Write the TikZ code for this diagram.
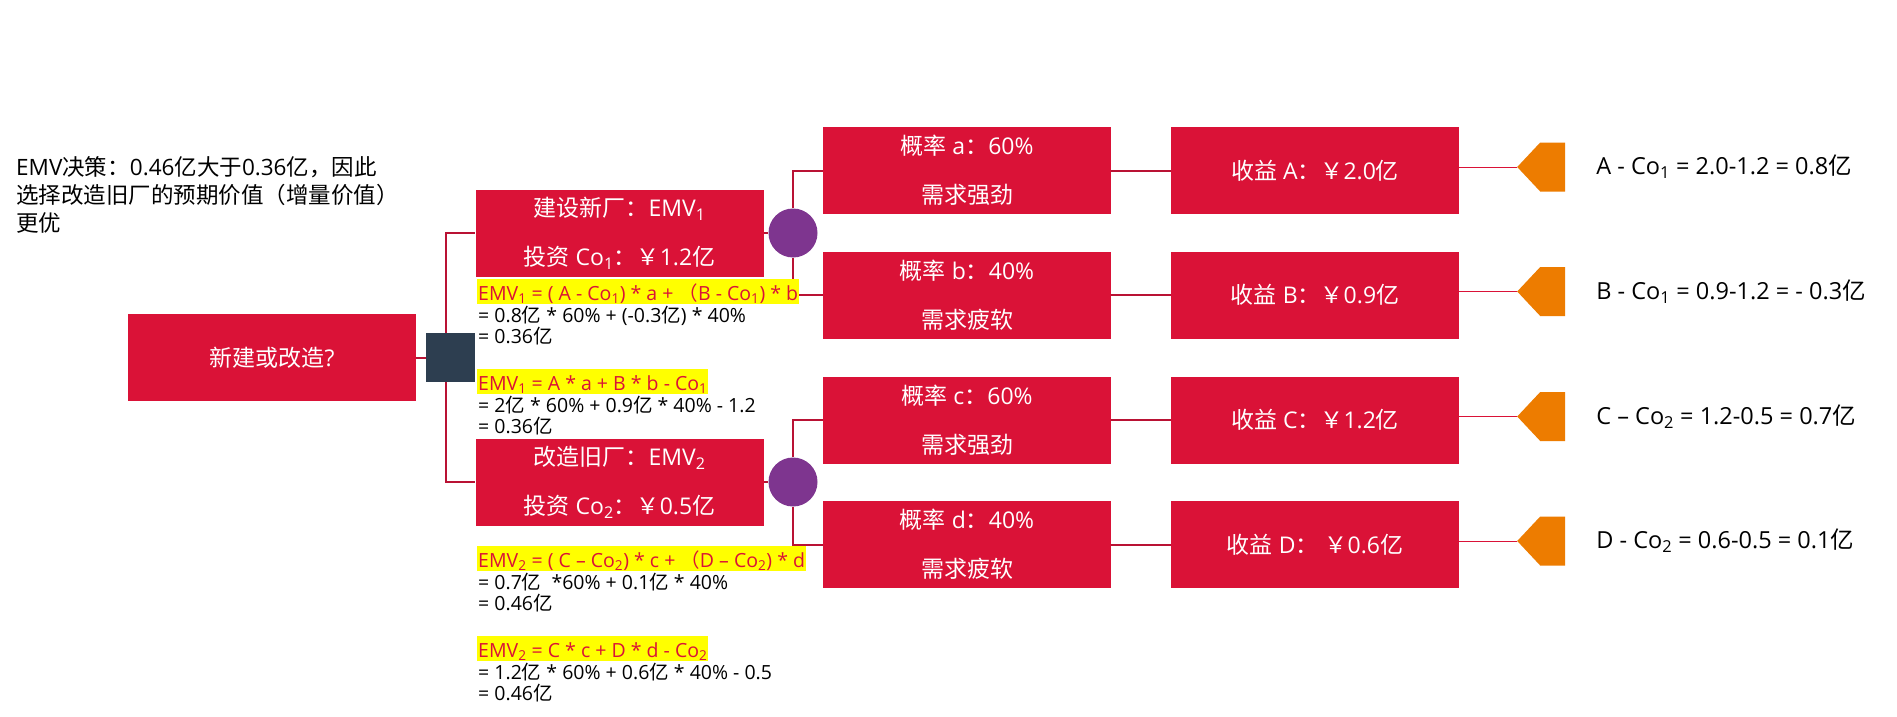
\documentclass[tikz,border=0pt]{standalone}
\usepackage{fontspec}
\setmainfont{Open Sans}
\newfontfamily\zhfont{Noto Sans CJK SC}
\newfontfamily\latinfont{Open Sans}
\usepackage{xcolor}
\usetikzlibrary{positioning,calc}

% Chinese characters and full-width forms switch to the CJK family
\XeTeXinterchartokenstate=1
\newXeTeXintercharclass\zhclass
\count255="3000
\loop \XeTeXcharclass\count255=\zhclass \advance\count255 by 1 \ifnum\count255<"A000 \repeat
\count255="FF00
\loop \XeTeXcharclass\count255=\zhclass \advance\count255 by 1 \ifnum\count255<"FFF0 \repeat
\XeTeXinterchartoks 0 \zhclass = {\zhfont}
\XeTeXinterchartoks 4095 \zhclass = {\zhfont}
\XeTeXinterchartoks \zhclass 0 = {\latinfont}
\XeTeXinterchartoks \zhclass 4095 = {\latinfont}

\definecolor{boxred}{RGB}{218,18,55}
\definecolor{linered}{RGB}{185,18,52}
\definecolor{sqdark}{RGB}{45,62,80}
\definecolor{chancepurple}{RGB}{126,53,143}
\definecolor{flagorange}{RGB}{237,124,0}
\definecolor{hlyellow}{RGB}{255,255,0}

\tikzset{
    box/.style={fill=boxred, text=white, minimum width=288pt, minimum height=87pt,
        inner sep=0pt, align=center, font=\fontsize{23}{49}\selectfont},
    decision/.style={fill=sqdark, minimum size=49pt, inner sep=0pt},
    chance/.style={circle, fill=chancepurple, minimum size=49pt, inner sep=0pt},
    conn/.style={linered, line width=2pt},
    thinconn/.style={boxred, line width=1pt},
    highlight/.style={fill=hlyellow, text=boxred, inner xsep=1pt, inner ysep=0pt,
        text height=21pt, text depth=4pt, font=\fontsize{19.5}{21}\selectfont},
    formula/.style={inner sep=0pt, align=left, font=\fontsize{19.5}{21}\selectfont},
    restext/.style={inner sep=0pt, font=\fontsize{23.5}{28}\selectfont},
}

\begin{document}
\begin{tikzpicture}[x=1pt, y=-1pt]
    \fill[white] (0,0) rectangle (1897,717);

    % Decision note
    \node[inner sep=0pt, align=left, anchor=north west, font=\fontsize{22.5}{28}\selectfont]
        (note) at (16,156) {EMV决策：0.46亿大于0.36亿，因此\\选择改造旧厂的预期价值（增量价值）\\更优};

    % Tree nodes
    \node[box] (main) at (272,357.5) {新建或改造?};
    \node[decision] (sq) at (450.5,357.5) {};
    \node[box] (new) at (619.5,233) {建设新厂：EMV\textsubscript{1}\\投资 Co\textsubscript{1}：￥1.2亿};
    \node[box] (old) at (619.5,482) {改造旧厂：EMV\textsubscript{2}\\投资 Co\textsubscript{2}：￥0.5亿};
    \node[chance] (c1) at (793,233) {};
    \node[chance] (c2) at (793,482) {};

    \node[box] (pa) at (967,170.5) {概率 a：60\%\\需求强劲};
    \node[box] (pb) at (967,295) {概率 b：40\%\\需求疲软};
    \node[box] (pc) at (967,420) {概率 c：60\%\\需求强劲};
    \node[box] (pd) at (967,544.5) {概率 d：40\%\\需求疲软};

    \node[box] (ra) at (1315,170.5) {收益 A：￥2.0亿};
    \node[box] (rb) at (1315,295) {收益 B：￥0.9亿};
    \node[box] (rc) at (1315,420) {收益 C：￥1.2亿};
    \node[box] (rd) at (1315,544.5) {收益 D： ￥0.6亿};

    % Connectors
    \draw[conn] (main.east) -- (sq.west);
    \draw[conn] ([xshift=-4.5pt]sq.north) |- (new.west);
    \draw[conn] ([xshift=-4.5pt]sq.south) |- (old.west);
    \draw[conn] (new.east) -- (c1.west);
    \draw[conn] (old.east) -- (c2.west);
    \draw[conn] (c1.north) |- (pa.west);
    \draw[conn] (c1.south) |- (pb.west);
    \draw[conn] (c2.north) |- (pc.west);
    \draw[conn] (c2.south) |- (pd.west);
    \foreach \p/\r in {pa/ra, pb/rb, pc/rc, pd/rd}
        \draw[conn] (\p.east) -- (\r.west);

    % End flags and results
    \foreach \r/\t in {ra/{A - Co\textsubscript{1} = 2.0-1.2 = 0.8亿},
                       rb/{B - Co\textsubscript{1} = 0.9-1.2 = - 0.3亿},
                       rc/{C – Co\textsubscript{2} = 1.2-0.5 = 0.7亿},
                       rd/{D - Co\textsubscript{2} = 0.6-0.5 = 0.1亿}} {
        \draw[thinconn] ([yshift=3.5pt]\r.east) -- ++(58,0) coordinate (tip-\r);
        \fill[flagorange] (tip-\r) -- ++(23,-24.5) -- ++(25,0) -- ++(0,49) -- ++(-25,0) -- cycle;
        \node[restext, right=79pt of tip-\r] (res-\r) {\t};
    }

    % EMV formulas
    \node[highlight, anchor=north west] (hl1) at (477,279)
        {EMV\textsubscript{1} = ( A - Co\textsubscript{1}) * a +\ （B - Co\textsubscript{1}) * b};
    \node[formula, anchor=north west] (f1) at ([xshift=1pt,yshift=-2pt]hl1.south west)
        {= 0.8亿 * 60\% + (-0.3亿) * 40\%\\= 0.36亿};
    \node[highlight, anchor=north west] (hl2) at (477,369)
        {EMV\textsubscript{1} = A * a + B * b - Co\textsubscript{1}};
    \node[formula, anchor=north west] (f2) at ([xshift=1pt,yshift=-2pt]hl2.south west)
        {= 2亿 * 60\% + 0.9亿 * 40\% - 1.2\\= 0.36亿};

    \node[highlight, anchor=north west] (hl3) at (477,546)
        {EMV\textsubscript{2} = ( C – Co\textsubscript{2}) * c +\ （D – Co\textsubscript{2}) * d};
    \node[formula, anchor=north west] (f3) at ([xshift=1pt,yshift=-2pt]hl3.south west)
        {= 0.7亿\ \ *60\% + 0.1亿 * 40\%\\= 0.46亿};
    \node[highlight, anchor=north west] (hl4) at (477,636)
        {EMV\textsubscript{2} = C * c + D * d - Co\textsubscript{2}};
    \node[formula, anchor=north west] (f4) at ([xshift=1pt,yshift=-2pt]hl4.south west)
        {= 1.2亿 * 60\% + 0.6亿 * 40\% - 0.5\\= 0.46亿};
\end{tikzpicture}
\end{document}
